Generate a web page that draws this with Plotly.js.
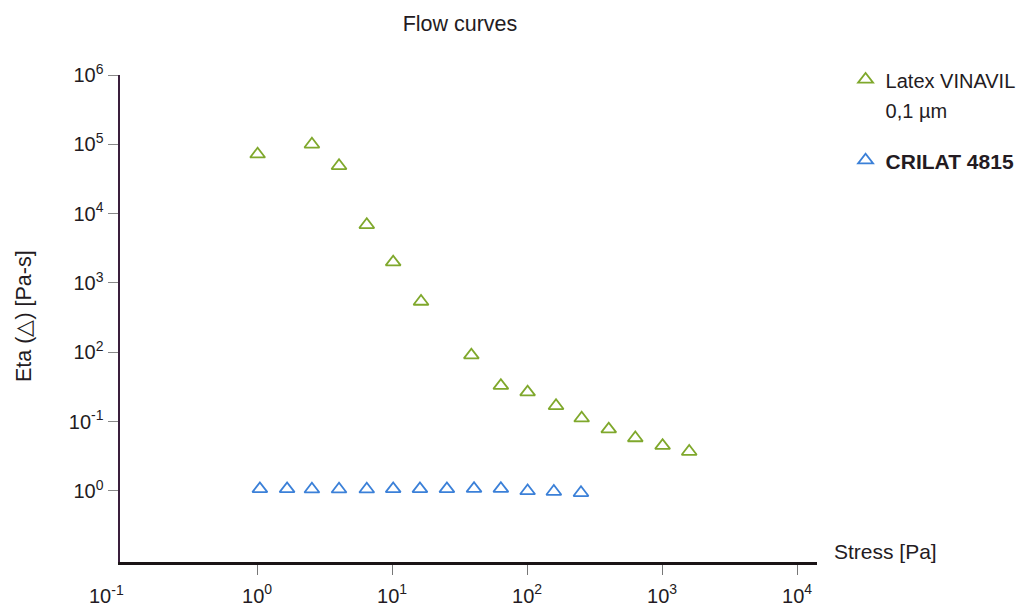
<!DOCTYPE html>
<html>
<head>
<meta charset="utf-8">
<script src="https://cdn.plot.ly/plotly-3.0.1.min.js"></script>
<style>html,body{margin:0;padding:0;background:#fff;}#chart{width:1023px;height:608px;}</style>
</head>
<body>
<div id="chart"></div>
<script>
// Data (stress in Pa, eta in Pa-s)
const latexStress = [1.01, 2.55, 4.05, 6.5, 10.2, 16.4, 38.7, 64, 101, 164, 254, 403, 634, 1010, 1590];
const latexEta    = [7.2e4, 1.0e5, 4.9e4, 6.9e3, 2.0e3, 540, 91, 33, 26.6, 16.9, 11.2, 7.8, 5.8, 4.5, 3.7];
const crilatStress = [1.05, 1.67, 2.55, 4.05, 6.5, 10.2, 16.1, 25.5, 40.5, 64, 101, 158, 251];
const crilatEta    = [1.07, 1.07, 1.06, 1.06, 1.06, 1.07, 1.07, 1.07, 1.08, 1.08, 1.0, 0.98, 0.94];

const latexName = '<span style="font-size:20px">Latex VINAVIL</span><br><span style="font-size:20px">0,1 µm</span>';
const crilatName = '<span style="font-size:21px"><b>CRILAT 4815</b></span>';

const xTickVals = [1, 10, 100, 1000, 10000];
const xTickText = ['10<sup>0</sup>', '10<sup>1</sup>', '10<sup>2</sup>', '10<sup>3</sup>', '10<sup>4</sup>'];
const yTickVals = [1, 10, 100, 1e3, 1e4, 1e5, 1e6];
const yTickText = ['10<sup>0</sup>', '10<sup>-1</sup>', '10<sup>2</sup>', '10<sup>3</sup>', '10<sup>4</sup>', '10<sup>5</sup>', '10<sup>6</sup>'];

const titleText = 'Flow curves';
const xTitle = 'Stress [Pa]';
const yTitle = 'Eta (△) [Pa-s]';
const extraXLabel = '10<sup>-1</sup>';

const FONT = '"Liberation Sans", Arial, Helvetica, sans-serif';
const GREEN = '#7fa82c';
const BLUE = '#3b80d8';
const TXT = '#231b22';

const traces = [
  {
    x: latexStress, y: latexEta, name: latexName, type: 'scatter', mode: 'markers',
    legendgroup: 'a',
    marker: {symbol: 'triangle-up-open', size: 13, color: GREEN, line: {width: 1.8, color: GREEN}},
    cliponaxis: false
  },
  {
    x: crilatStress, y: crilatEta, name: crilatName, type: 'scatter', mode: 'markers',
    legendgroup: 'b',
    marker: {symbol: 'triangle-up-open', size: 13, color: BLUE, line: {width: 1.8, color: BLUE}},
    cliponaxis: false
  }
];

const layout = {
  width: 1023, height: 608,
  margin: {l: 120, r: 206, t: 75, b: 46, autoexpand: false},
  paper_bgcolor: '#fff', plot_bgcolor: '#fff',
  font: {family: FONT, size: 20, color: TXT},
  title: {text: titleText, x: 460/1023, xref: 'container', xanchor: 'center',
          y: 1 - 23/608, yref: 'container', yanchor: 'middle',
          font: {family: FONT, size: 21.5, color: TXT}},
  showlegend: true,
  legend: {x: 1.041, xanchor: 'left', y: 1.035, yanchor: 'top',
           valign: 'top', traceorder: 'grouped', tracegroupgap: 18,
           font: {family: FONT, size: 23, color: TXT}, bgcolor: 'rgba(0,0,0,0)'},
  xaxis: {
    type: 'log', range: [-1.015, 4.148],
    tickmode: 'array', tickvals: xTickVals, ticktext: xTickText,
    ticks: 'outside', ticklen: 10, tickwidth: 1, tickcolor: '#777',
    ticklabelstandoff: 4,
    showline: true, linecolor: '#1a1416', linewidth: 2.5,
    showgrid: false, zeroline: false,
    tickfont: {family: FONT, size: 20, color: TXT}
  },
  yaxis: {
    type: 'log', range: [-1.025, 6.0],
    tickmode: 'array', tickvals: yTickVals, ticktext: yTickText,
    ticks: 'outside', ticklen: 10, tickwidth: 1, tickcolor: '#888',
    showline: true, linecolor: '#3a1f3c', linewidth: 2.5,
    showgrid: false, zeroline: false,
    tickfont: {family: FONT, size: 20, color: TXT}
  },
  annotations: [
    {text: xTitle, xref: 'paper', yref: 'paper', x: (832-120)/697, y: (562-551)/487,
     xanchor: 'left', yanchor: 'middle', showarrow: false,
     font: {family: FONT, size: 21, color: TXT}},
    {text: yTitle, xref: 'paper', yref: 'paper', x: (24-120)/697, y: (562-316)/487,
     xanchor: 'center', yanchor: 'middle', textangle: -90, showarrow: false,
     font: {family: FONT, size: 21.5, color: TXT}},
    {text: extraXLabel, xref: 'paper', yref: 'paper', x: (106-120)/697, y: (562-594)/487,
     xanchor: 'center', yanchor: 'middle', showarrow: false,
     font: {family: FONT, size: 20, color: TXT}}
  ]
};

Plotly.newPlot('chart', traces, layout, {displayModeBar: false, staticPlot: true});
</script>
</body>
</html>
